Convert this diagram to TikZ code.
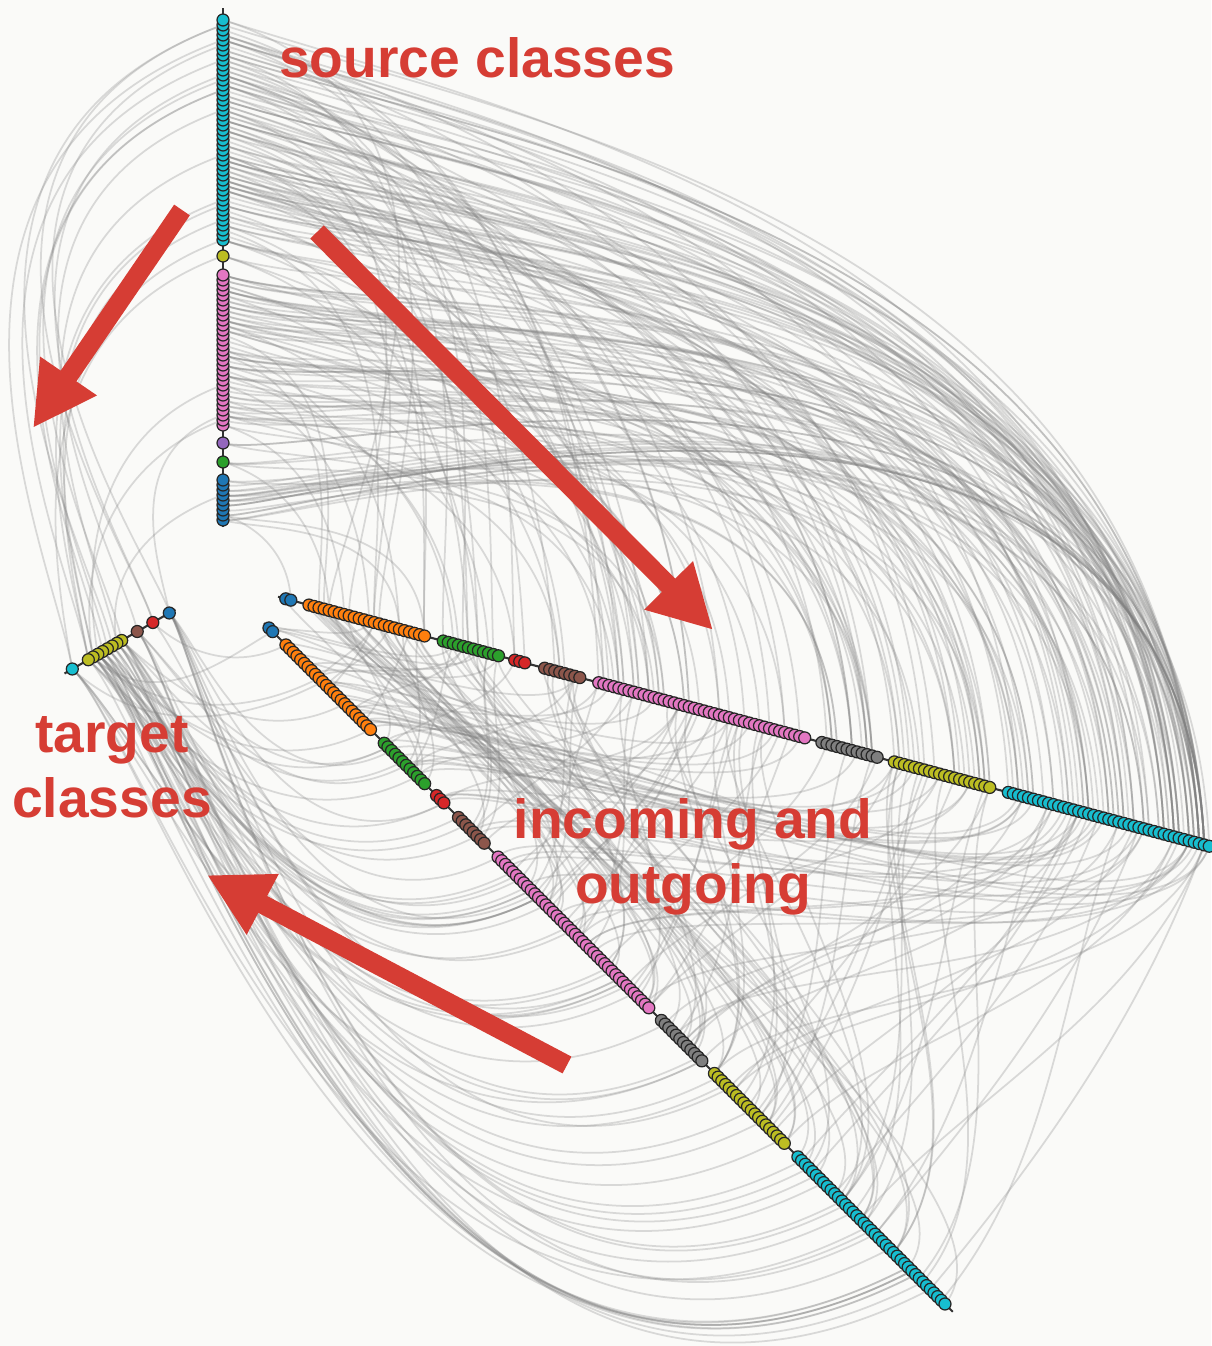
\documentclass[tikz,border=0pt]{standalone}
\usepackage{fontspec}
\newfontfamily\labelfont{Liberation Sans}
\usetikzlibrary{calc,arrows.meta,backgrounds}

\definecolor{paper}{RGB}{250,250,248}
\definecolor{linkgray}{RGB}{128,128,128}
\definecolor{calred}{RGB}{214,61,52}
\definecolor{cblue}{HTML}{1F77B4}
\definecolor{corange}{HTML}{FF7F0E}
\definecolor{cgreen}{HTML}{2CA02C}
\definecolor{cred}{HTML}{D62728}
\definecolor{cpurple}{HTML}{9467BD}
\definecolor{cbrown}{HTML}{8C564B}
\definecolor{cpink}{HTML}{E377C2}
\definecolor{cgray}{HTML}{7F7F7F}
\definecolor{colive}{HTML}{BCBD22}
\definecolor{ccyan}{HTML}{17BECF}

\newcount\dotcount

\tikzset{
  link/.style={draw=linkgray, line width=0.5pt, opacity=0.27},
  dot/.style={circle, inner sep=0pt, minimum size=1.2mm, draw=black!85, line width=0.35pt},
  axisline/.style={draw=black!80, line width=0.6pt},
  callout/.style={text=calred, font=\labelfont\bfseries\fontsize{15.7}{18.4}\selectfont,
    align=center, inner sep=0pt, anchor=base},
  bigarrow/.style={draw=calred, line width=1.9mm, -{Triangle[length=6.3mm,width=6.4mm]}},
}

\begin{document}
\begin{tikzpicture}
\useasboundingbox (0,0) rectangle (12.11,-13.46);
\begin{pgfonlayer}{background}
\fill[paper] (0,0) rectangle (12.11,-13.46);
\end{pgfonlayer}

\begin{scope}[shift={(2.23,-5.82)}]
\coordinate (hub) at (0,0);

% axes
\coordinate (srcfoot) at (90:0.55);   \coordinate (srchead) at (90:5.74);
\coordinate (ioafoot) at (-15:0.57);  \coordinate (ioahead) at (-15:10.35);
\coordinate (iobfoot) at (-45:0.58);  \coordinate (iobhead) at (-45:10.32);
\coordinate (tgtfoot) at (210:0.55);  \coordinate (tgthead) at (210:1.83);

% source axis
\global\dotcount=0
\foreach \col/\rin/\num in {cblue/0.62/9,cgreen/1.20/1,cpurple/1.39/1,cpink/1.57/31,colive/3.26/1,ccyan/3.42/45}{
  \foreach \j in {1,...,\num}{
    \global\advance\dotcount by 1
    \edef\k{\the\dotcount}
    \node[dot,fill=\col] (src\k) at (90:{\rin+(\j-1)*0.05}) {};
  }
}

% incoming/outgoing axes (two copies)
\foreach \ax/\ang in {ioa/-15,iob/-45}{
  \global\dotcount=0
  \foreach \col/\rin/\num in {cblue/0.65/2,corange/0.89/24,cgreen/2.28/12,cred/3.02/3,cbrown/3.33/8,cpink/3.89/42,cgray/6.20/12,colive/6.95/20,ccyan/8.13/41}{
    \foreach \j in {1,...,\num}{
      \global\advance\dotcount by 1
      \edef\k{\the\dotcount}
      \node[dot,fill=\col] (\ax\k) at (\ang:{\rin+(\j-1)*0.052}) {};
    }
  }
}

% target axis
\global\dotcount=0
\foreach \col/\rin/\num in {cblue/0.62/1,cred/0.81/1,cbrown/0.99/1,colive/1.17/8,ccyan/1.74/1}{
  \foreach \j in {1,...,\num}{
    \global\advance\dotcount by 1
    \edef\k{\the\dotcount}
    \node[dot,fill=\col] (tgt\k) at (210:{\rin+(\j-1)*0.055}) {};
  }
}

\begin{pgfonlayer}{background}
\pgfmathsetseed{1234}
% source -> outgoing copy
\foreach \i in {1,...,88}{
  \pgfmathrandominteger{\m}{1}{4}
  \foreach \e in {1,...,\m}{
    \pgfmathtruncatemacro{\j}{1+163*(1-rnd^2)}
    \draw[link] (src\i.center) .. controls ($(hub)!1!-35:(src\i.center)$) and ($(hub)!1!35:(ioa\j.center)$) .. (ioa\j.center);
  }
}
% outgoing copy <-> incoming copy
\foreach \e in {1,...,170}{
  \pgfmathrandominteger{\ia}{1}{164}
  \pgfmathrandominteger{\ib}{1}{164}
  \draw[link] (ioa\ia.center) .. controls ($(hub)!1!-10:(ioa\ia.center)$) and ($(hub)!1!10:(iob\ib.center)$) .. (iob\ib.center);
}
% incoming copy -> target
\foreach \e in {1,...,70}{
  \pgfmathrandominteger{\ia}{1}{164}
  \pgfmathrandominteger{\ib}{1}{12}
  \draw[link] (iob\ia.center) .. controls ($(hub)!1!-35:(iob\ia.center)$) and ($(hub)!1!35:(tgt\ib.center)$) .. (tgt\ib.center);
}
% source -> target
\foreach \e in {1,...,20}{
  \pgfmathtruncatemacro{\ia}{1+87*(1-rnd^2)}
  \pgfmathrandominteger{\ib}{1}{12}
  \draw[link] (src\ia.center) .. controls ($(hub)!1!40:(src\ia.center)$) and ($(hub)!1!-40:(tgt\ib.center)$) .. (tgt\ib.center);
}
\draw[axisline] (srcfoot) -- (srchead);
\draw[axisline] (ioafoot) -- (ioahead);
\draw[axisline] (iobfoot) -- (iobhead);
\draw[axisline] (tgtfoot) -- (tgthead);
\end{pgfonlayer}
\end{scope}

% labels (anchored at the baseline of the last line)
\node[callout] (srclabel) at (4.77,-0.78) {source classes};
\node[callout] (tgtlabel) at (1.12,-8.17) {target\\classes};
\node[callout] (iolabel) at (6.93,-9.03) {incoming and\\outgoing};

% arrows
\coordinate (arrAtail) at (1.82,-2.10);  \coordinate (arrAtip) at (0.33,-4.28);
\coordinate (arrBtail) at (3.17,-2.32);  \coordinate (arrBtip) at (7.13,-6.30);
\coordinate (arrCtail) at (5.67,-10.65); \coordinate (arrCtip) at (2.07,-8.75);
\draw[bigarrow] (arrAtail) -- (arrAtip);
\draw[bigarrow] (arrBtail) -- (arrBtip);
\draw[bigarrow] (arrCtail) -- (arrCtip);
\end{tikzpicture}
\end{document}
